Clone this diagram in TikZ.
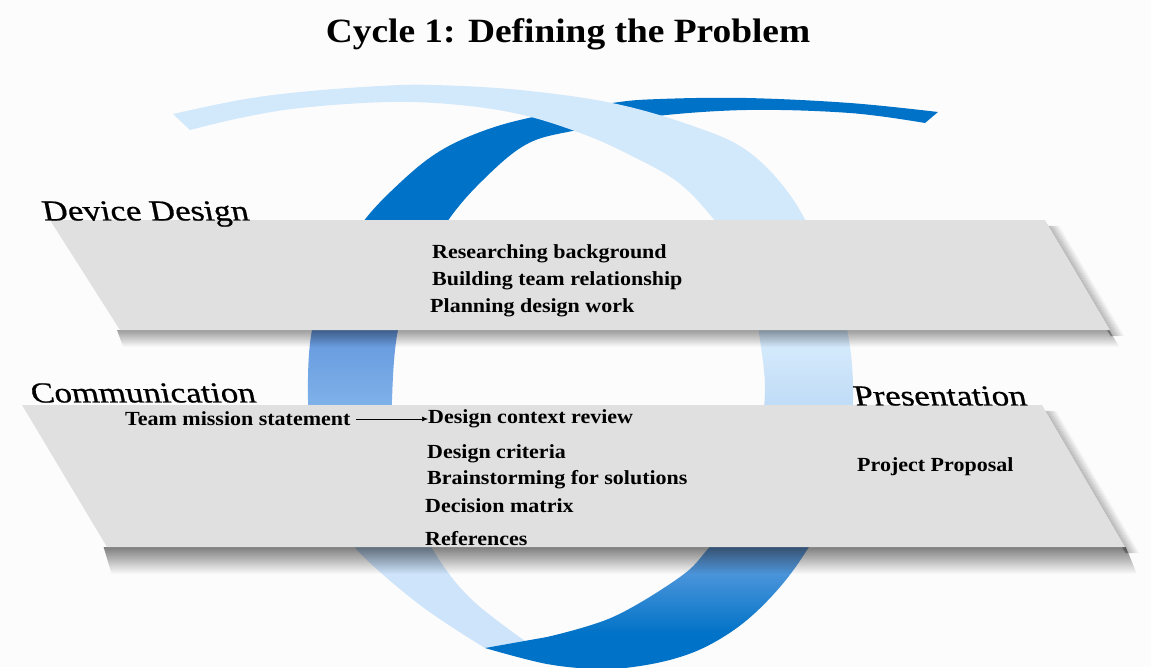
\documentclass[tikz,border=0pt]{standalone}
\usepackage{fontspec}
\setmainfont{Liberation Serif}
\newfontfamily\itemfont[FakeStretch=1.1]{Liberation Serif}
\newfontfamily\labelfont[FakeStretch=1.2, FakeBold=0.7]{Liberation Serif}
\usetikzlibrary{arrows.meta,fadings}

\definecolor{pagebg}{RGB}{252,252,252}
\definecolor{bandgray}{RGB}{224,224,224}
\definecolor{ringdark}{RGB}{0,114,199}
\definecolor{ringmid}{RGB}{125,175,232}
\definecolor{ringmiddark}{RGB}{100,152,222}
\definecolor{ringlight}{RGB}{210,232,251}
\definecolor{ringlightA}{RGB}{205,228,250}
\definecolor{ringB1}{RGB}{100,160,225}
\definecolor{ringB2}{RGB}{150,192,238}
\definecolor{ringB3}{RGB}{185,215,245}

% left half of the loop: dark on top, pale at the bottom
\pgfdeclareverticalshading{ringA}{100bp}{%
  color(0bp)=(ringlightA); color(32bp)=(ringlightA);
  color(47.5bp)=(ringmid); color(54bp)=(ringmiddark);
  color(63bp)=(ringdark); color(100bp)=(ringdark)}
% right half of the loop: pale on top, dark at the bottom
\pgfdeclareverticalshading{ringB}{100bp}{%
  color(0bp)=(ringdark); color(28bp)=(ringdark);
  color(35bp)=(ringB1); color(41bp)=(ringB2); color(46bp)=(ringB3);
  color(52bp)=(ringlight); color(100bp)=(ringlight)}

\tikzset{
  band/.style={fill=bandgray},
  dropshade/.style={fill=black, path fading=south},
  titletext/.style={inner sep=0pt, font=\itemfont\bfseries\fontsize{34}{40}\selectfont},
  itemtext/.style={anchor=west, inner sep=0pt, font=\itemfont\bfseries\fontsize{20}{24}\selectfont},
  lbl/.style={inner sep=0pt, font=\labelfont\fontsize{29}{32}\selectfont,
    xslant=-0.2, transform shape},
  flow/.style={-{Latex[length=6pt,width=5pt]}, line width=0.6pt, shorten <=5pt},
}

\begin{document}
\begin{tikzpicture}[x=1pt, y=-1pt]
  % page
  \fill[pagebg] (0,0) rectangle (1151,667);
  \useasboundingbox (0,0) rectangle (1151,667);

  % dark ribbon: thin tail top right, sweeping down the left side
  \shade[shading=ringA]
    plot[smooth, tension=0.6] coordinates {(938,112) (850,103) (746,98) (660,99)
      (612,103) (533,117) (483,131) (440,151) (403,180) (363,222) (332,275)
      (312,330) (308,400) (314,460) (332,510) (357,550) (420,605) (485,648)}
    -- plot[smooth, tension=0.6] coordinates {(525,641) (470,598) (433,550)
      (407,495) (394,440) (392,400) (398,330) (418,275) (447,222) (483,180)
      (527,144) (577,130) (648,117) (746,110) (850,113) (925,123)}
    -- cycle;

  % pale ribbon: tail top left, sweeping down the right side
  \shade[shading=ringB]
    plot[smooth, tension=0.6] coordinates {(173,114) (240,100) (300,92) (380,86)
      (434,85) (520,90) (612,103) (690,125) (746,150) (790,195) (822,255)
      (845,320) (853,385) (848,450) (832,505) (807,550) (780,587) (747,620)
      (713,643) (680,657) (640,666) (600,669) (547,664) (485,648)}
    -- plot[smooth, tension=0.6] coordinates {(547,637) (613,617) (680,577)
      (707,550) (730,520) (748,480) (760,430) (765,390) (760,340) (746,262)
      (717,223) (679,183) (630,155) (583,134) (523,115) (460,105) (389,102)
      (300,108) (240,118) (190,130)}
    -- cycle;

  % soft shadows under and to the right of the bands
  \fill[dropshade, opacity=0.38] (118,330) -- (1112,330) -- (1122,347) -- (124,347) -- cycle;
  \fill[dropshade, opacity=0.5] (104,547) -- (1127,547) -- (1138,574) -- (112,574) -- cycle;
  \foreach \k [evaluate=\k as \op using 0.016*(15-\k)] in {1,...,14} {
    \draw[black, line width=1.2pt, opacity=\op] (1045+\k,226) -- (1110+\k,336);
    \draw[black, line width=1.2pt, opacity=\op] (1042+\k,411) -- (1125+\k,553);
  }

  % the two slanted bands
  \fill[band] (50,220) -- (1045,220) -- (1110,330) -- (120,330) -- cycle;
  \fill[band] (22,405) -- (1042,405) -- (1125,547) -- (107,547) -- cycle;

  % title
  \node[titletext] (title) at (568,34) {Cycle 1: Defining the Problem};

  % band labels
  \node[lbl] (device) at (146,214) {Device Design};
  \node[lbl] (comm) at (143,393) {Communication};
  \node[lbl] (pres) at (940,396) {Presentation};

  % upper band items
  \node[itemtext] (research) at (432,254) {Researching background};
  \node[itemtext] (team) at (432,281) {Building team relationship};
  \node[itemtext] (plan) at (430,308) {Planning design work};

  % lower band items
  \node[itemtext] (mission) at (125,419) {Team mission statement};
  \node[itemtext] (context) at (428,419) {Design context review};
  \node[itemtext] (criteria) at (427,454) {Design criteria};
  \node[itemtext] (brain) at (427,480) {Brainstorming for solutions};
  \node[itemtext] (matrix) at (425,506) {Decision matrix};
  \node[itemtext] (refs) at (425,539) {References};
  \node[itemtext] (proposal) at (857,467) {Project Proposal};

  \draw[flow] (mission.east) -- (context.west);
\end{tikzpicture}
\end{document}
